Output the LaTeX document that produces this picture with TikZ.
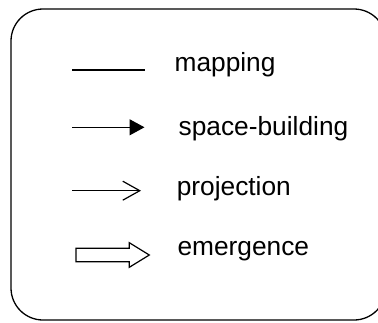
\documentclass[tikz,border=0pt]{standalone}
\usepackage{fontspec}
\setmainfont{Liberation Sans}
\usetikzlibrary{arrows.meta}
\tikzset{
  legendtext/.style={anchor=base west, inner sep=0pt, font=\fontsize{26.3}{30}\selectfont},
  legendline/.style={line width=1.3pt, line cap=butt},
  frame/.style={line width=1.3pt, rounded corners=32pt},
  blockarrow/.style={line width=1.2pt, line join=miter, fill=white},
}
\begin{document}
\begin{tikzpicture}[x=1pt, y=-1pt]
  \useasboundingbox (0,0) rectangle (378,322);
  \fill[white] (0,0) rectangle (378,322);

  % legend frame (its right side runs past the page edge)
  \draw[frame] (11,9) rectangle (386,320);

  % mapping: plain line
  \coordinate (map-a) at (72,70);
  \coordinate (map-b) at (145,70);
  \draw[legendline] (map-a) -- (map-b);
  \node[legendtext] (map-t) at (174.4,71.7) {mapping};

  % space-building: line with solid head
  \coordinate (sb-a) at (72,127.3);
  \coordinate (sb-b) at (144.5,127.3);
  \draw[legendline, -{Triangle[length=15pt,width=16pt]}] (sb-a) -- (sb-b);
  \node[legendtext] (sb-t) at (178.5,135.7) {space-building};

  % projection: line with open head
  \coordinate (pr-a) at (72,190.7);
  \coordinate (pr-b) at (141,190.7);
  \draw[legendline, -{Straight Barb[length=17pt,width=19pt,line width=1.2pt]}] (pr-a) -- (pr-b);
  \node[legendtext] (pr-t) at (176.6,195) {projection};

  % emergence: hollow block arrow
  \coordinate (em-tail) at (76,255);
  \coordinate (em-tip) at (149.3,255);
  \draw[blockarrow]
    (76,248.3) -- (129.3,248.3) -- (129.3,242.7) -- (em-tip)
    -- (129.3,267.3) -- (129.3,261.7) -- (76,261.7) -- cycle;
  \node[legendtext] (em-t) at (177.3,255) {emergence};
\end{tikzpicture}
\end{document}
